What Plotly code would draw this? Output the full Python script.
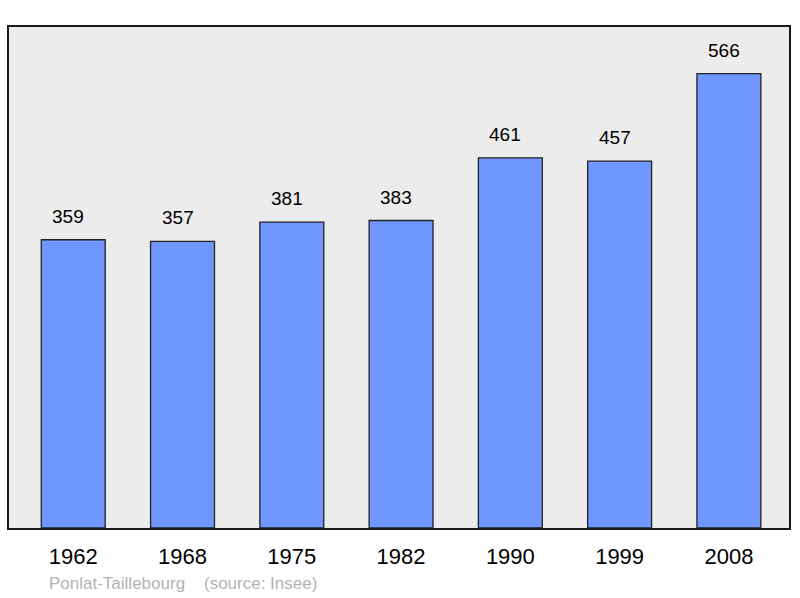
import plotly.graph_objects as go

years = ["1962", "1968", "1975", "1982", "1990", "1999", "2008"]
population = [359, 357, 381, 383, 461, 457, 566]
place = "Ponlat-Taillebourg"
source = "(source: Insee)"

FONT = "Liberation Sans, Arial"
W, H = 800, 598
L, T, R, B = 9, 27, 9, 70
PW, PH = W - L - R, H - T - B

fig = go.Figure()
fig.add_trace(go.Bar(
    x=list(range(len(years))), y=population, width=0.585,
    marker=dict(color="#7097ff", line=dict(color="#222222", width=1.3)),
    hoverinfo="skip",
))

for i, v in enumerate(population):
    fig.add_annotation(x=i, y=v, text=str(v), showarrow=False, yanchor="bottom",
                       yshift=11, xshift=-5, font=dict(family=FONT, size=19, color="#000"))

fig.add_annotation(xref="paper", yref="paper", x=(47 - 9) / PW, y=-(583 - 528) / PH,
                   xanchor="left", yanchor="middle",
                   text=place + "\u00a0\u00a0\u00a0\u00a0" + source, showarrow=False,
                   font=dict(family=FONT, size=17, color="#b3b3b3"))

fig.update_layout(
    width=W, height=H,
    margin=dict(l=L, r=R, t=T, b=B, pad=0),
    paper_bgcolor="white", plot_bgcolor="#ececec",
    showlegend=False,
    xaxis=dict(range=[-0.588, 6.55], tickmode="array", tickvals=list(range(len(years))),
               ticktext=years, showgrid=False, zeroline=False,
               ticks="outside", ticklen=8, tickcolor="rgba(0,0,0,0)",
               showline=True, linecolor="#1a1a1a", linewidth=2, mirror=True,
               tickfont=dict(family=FONT, size=22, color="#000")),
    yaxis=dict(range=[0, 624], showgrid=False, zeroline=False, showticklabels=False,
               ticks="", showline=True, linecolor="#1a1a1a", linewidth=2, mirror=True),
)

fig.write_html("out.html", config={"displayModeBar": False},
               post_script="document.body.style.margin='0';document.body.style.overflow='hidden';")
